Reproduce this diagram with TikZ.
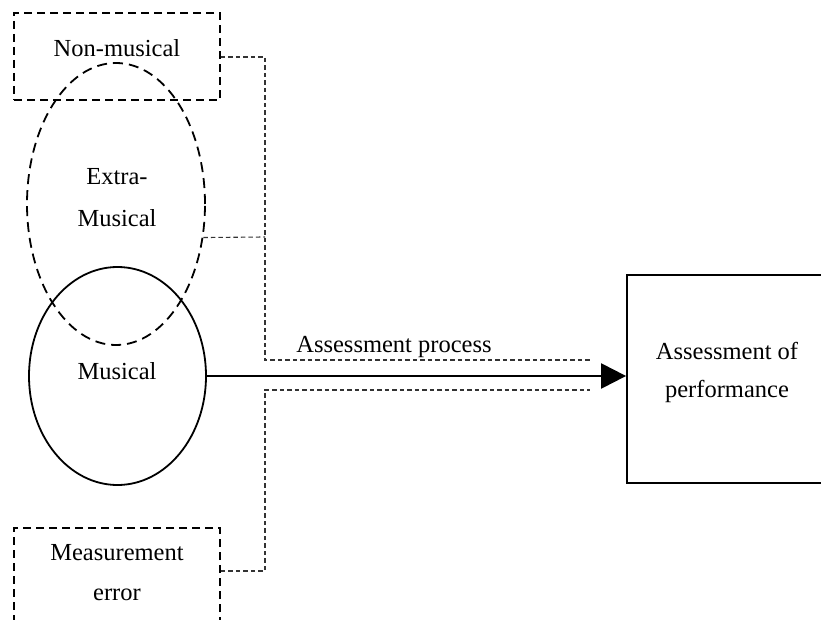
\documentclass[tikz,border=0pt]{standalone}
\usepackage{fontspec}
\setmainfont{Liberation Serif}
\usetikzlibrary{shapes.geometric,arrows.meta}

\begin{document}
\begin{tikzpicture}[x=1pt,y=-1pt,
  txt/.style={anchor=base,inner sep=0pt,font=\fontsize{24.5}{29}\selectfont},
  dashbox/.style={draw,line width=1.8pt,dash pattern=on 8pt off 5pt,
    rectangle,inner sep=0pt},
  solidbox/.style={draw,line width=1.8pt,rectangle,inner sep=0pt},
  dashoval/.style={draw,line width=1.8pt,dash pattern=on 10pt off 6pt,
    ellipse,inner sep=0pt},
  solidoval/.style={draw,line width=1.8pt,ellipse,inner sep=0pt},
  link/.style={draw=black!80,line width=1.1pt,dash pattern=on 4.5pt off 3pt},
  mainarrow/.style={line width=2.2pt,-{Triangle[length=25pt,width=25pt]}}]
  \useasboundingbox (0,0) rectangle (821,620);

  % factor boxes and ovals
  \node[dashbox,minimum width=206pt,minimum height=87pt] (nonmus) at (117,56.5) {};
  \node[dashoval,minimum width=178pt,minimum height=282pt] (extra) at (116,204) {};
  \node[solidoval,minimum width=177pt,minimum height=218pt] (musical) at (117.5,376) {};
  \node[dashbox,minimum width=206pt,minimum height=112pt] (measure) at (117,584) {};
  \node[solidbox,minimum width=203pt,minimum height=208pt] (perf) at (728.5,379) {};

  % labels
  \node[txt] (tnonmus) at (117,57) {Non-musical};
  \node[txt] (textra1) at (117,185) {Extra-};
  \node[txt] (textra2) at (117,227) {Musical};
  \node[txt] (tmusical) at (117,379) {Musical};
  \node[txt] (tmeas1) at (117,560) {Measurement};
  \node[txt] (tmeas2) at (117,600) {error};
  \node[txt] (tperf1) at (727,359) {Assessment of};
  \node[txt] (tperf2) at (727,397) {performance};
  \node[txt] (tproc) at (394,352) {Assessment process};

  % dotted channel of the assessment process
  \coordinate (topbend) at (265,57);
  \coordinate (topjoin) at (265,237);
  \coordinate (topcorner) at (265,360);
  \coordinate (topend) at (590,360);
  \coordinate (botbend) at (265,571);
  \coordinate (botcorner) at (265,390);
  \coordinate (botend) at (590,390);

  \draw[link] (nonmus.east |- topbend) -- (topbend) -- (topcorner) -- (topend);
  \draw[link] (extra.-21) -- (topjoin);
  \draw[link] (measure.east |- botbend) -- (botbend) -- (botcorner) -- (botend);

  % main assessment arrow
  \draw[mainarrow] (musical.east) -- (musical.east -| perf.west);
\end{tikzpicture}
\end{document}
